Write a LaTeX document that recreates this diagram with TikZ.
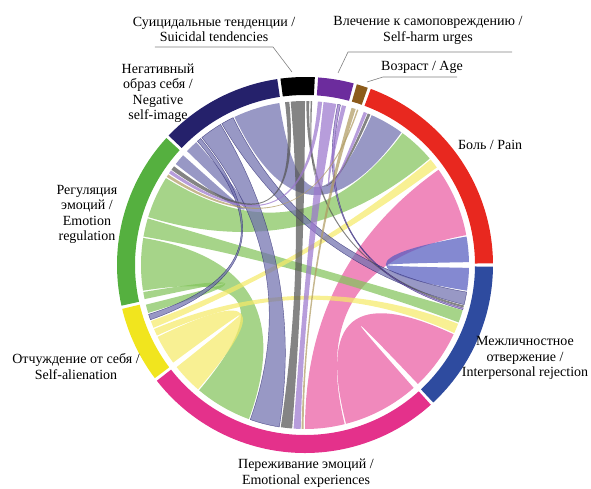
\documentclass[tikz,border=0pt]{standalone}
\usepackage{fontspec}
\setmainfont{Liberation Serif}
\usetikzlibrary{calc}

%% colours of the sectors
\definecolor{cNavy}{HTML}{25216B}
\definecolor{cBlack}{HTML}{000000}
\definecolor{cPurple}{HTML}{6C2C9D}
\definecolor{cBrown}{HTML}{8C5B1B}
\definecolor{cRed}{HTML}{E8281F}
\definecolor{cBlue}{HTML}{2E4B9F}
\definecolor{cPink}{HTML}{E4318B}
\definecolor{cYellow}{HTML}{F1E51E}
\definecolor{cGreen}{HTML}{55B03F}
%% colours of the chords
\definecolor{kNavy}{HTML}{7070AE}
\definecolor{kBlack}{HTML}{545454}
\definecolor{kPurple}{HTML}{9B77CD}
\definecolor{kBrown}{HTML}{B09B62}
\definecolor{kBlue}{HTML}{545BBF}
\definecolor{kPink}{HTML}{EA5BA2}
\definecolor{kYellow}{HTML}{F5EA69}
\definecolor{kGreen}{HTML}{83C45B}

%% radii
\def\Ro{188}
\def\Ri{170}
\def\Rc{164}
\def\Rk{54.667}

\newcommand{\ringseg}[3]{%
  \fill[#3] (#1:\Ro) arc[start angle=#1, end angle=#2, radius=\Ro]
    -- (#2:\Ri) arc[start angle=#2, end angle=#1, radius=\Ri] -- cycle;}

\newcommand{\chordband}[5]{%
  \fill[#5] (#1:\Rc) arc[start angle=#1, end angle=#2, radius=\Rc]
    .. controls (#2:\Rk) and (#3:\Rk) .. (#3:\Rc)
    arc[start angle=#3, end angle=#4, radius=\Rc]
    .. controls (#4:\Rk) and (#1:\Rk) .. (#1:\Rc) -- cycle;}

\tikzset{
  band/.style={fill opacity=0.72},
  edged/.style={band, draw=cNavy, draw opacity=0.7, line width=0.4pt},
  lbl/.style={font=\fontsize{14}{15.5}\selectfont, align=center, inner sep=0pt},
  lead/.style={draw=gray, line width=0.6pt}
}

\begin{document}
\begin{tikzpicture}[x=1pt, y=1pt]
    \useasboundingbox (-305,-223) rectangle (286,265);

    %% sectors
    \ringseg{136.5}{98.5}{cNavy}
    \ringseg{97.5}{87}{cBlack}
    \ringseg{86}{75}{cPurple}
    \ringseg{74}{70.5}{cBrown}
    \ringseg{69.5}{0.5}{cRed}
    \ringseg{-0.5}{-47}{cBlue}
    \ringseg{-48}{-142}{cPink}
    \ringseg{217}{193.5}{cYellow}
    \ringseg{192.5}{137.5}{cGreen}

    %% chords from emotional experiences
    \chordband{311.5}{284.5}{-25}{-46.5}{kPink, band}
    \chordband{284}{270}{35.5}{10.5}{kPink, band}

    %% chords from interpersonal rejection
    \chordband{-1}{-9}{10}{1}{kBlue, band}

    %% chords from emotion regulation
    \chordband{192}{189.5}{197}{194}{kGreen, band}
    \chordband{189}{170.5}{250}{229.8}{kGreen, band}
    \chordband{170}{163.5}{-16}{-20.5}{kGreen, band}
    \chordband{163}{148}{53.5}{40.5}{kGreen, band}

    %% chords from self-alienation
    \chordband{216.5}{206}{229.3}{218.5}{kYellow, band}
    \chordband{205.5}{203}{-21}{-24.5}{kYellow, band}
    \chordband{202.5}{200}{40}{36.5}{kYellow, band}

    %% chords from negative self-image
    \chordband{136}{131.5}{142}{138}{kNavy, band}
    \chordband{131}{129.5}{199.5}{197.5}{kNavy, edged}
    \chordband{129}{121}{261}{250.5}{kNavy, edged}
    \chordband{120.5}{116}{-9.5}{-14}{kNavy, edged}
    \chordband{115.5}{99}{66}{54}{kNavy, band}

    %% chords from suicidal tendencies
    \chordband{97}{95.5}{144.5}{143}{kBlack, band}
    \chordband{95}{90}{265.5}{261.5}{kBlack, band}
    \chordband{89.5}{88.5}{-14.3}{-15}{kBlack, band}
    \chordband{88}{87.5}{67.5}{66.5}{kBlack, band}

    %% chords from self-harm urges
    \chordband{85.5}{84}{146}{144.8}{kPurple, band}
    \chordband{83.5}{79}{268.5}{266}{kPurple, band}
    \chordband{78.5}{77.5}{-15.2}{-15.8}{kPurple, edged}
    \chordband{77}{75.5}{69}{67.8}{kPurple, band}

    %% chords from age
    \chordband{73.5}{72}{269.5}{268.8}{kBrown, band}
    \chordband{71.5}{71}{147.5}{146.5}{kBrown, band}

    %% labels
    \node[lbl] (suic) at (-91,235.5) {Суицидальные тенденции /\\Suicidal tendencies};
    \node[lbl] (harm) at (123,234.5) {Влечение к самоповреждению /\\Self-harm urges};
    \node[lbl] (age) at (117,198) {Возраст / Age};
    \node[lbl, anchor=west] (pain) at (153,120) {Боль / Pain};
    \node[lbl] (self) at (-147,172) {Негативный\\образ себя /\\Negative\\self-image};
    \node[lbl] (regul) at (-218,50.5) {Регуляция\\эмоций /\\Emotion\\regulation};
    \node[lbl] (alien) at (-229,-101.5) {Отчуждение от себя /\\Self-alienation};
    \node[lbl] (exper) at (1,-208) {Переживание эмоций /\\Emotional experiences};
    \node[lbl] (rejec) at (220,-93) {Межличностное\\отвержение /\\Interpersonal rejection};

    %% leader lines
    \coordinate (suicA) at (-150,218);
    \coordinate (suicB) at (-32,218);
    \coordinate (suicC) at (-13,193);
    \coordinate (harmA) at (207,213);
    \coordinate (harmB) at (43,213);
    \coordinate (harmC) at (33,192);
    \coordinate (ageA) at (152,188);
    \coordinate (ageB) at (78,188);
    \coordinate (ageC) at (62,183);
    \draw[lead] (suicA) -- (suicB) -- (suicC);
    \draw[lead] (harmA) -- (harmB) -- (harmC);
    \draw[lead] (ageA) -- (ageB) -- (ageC);
\end{tikzpicture}
\end{document}
